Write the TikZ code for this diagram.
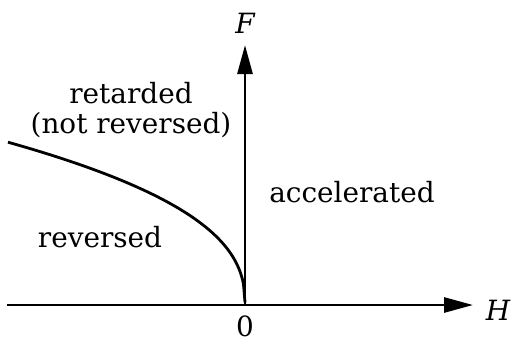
\documentclass[tikz,border=0pt]{standalone}
\usepackage{fontspec}
\setmainfont{DejaVu Serif}
\usetikzlibrary{arrows.meta}
\begin{document}
\begin{tikzpicture}[x=1bp,y=-1bp,
  axis/.style={line width=2.8bp,-{Triangle[length=29bp,width=15bp]}},
  curve/.style={line width=2.8bp},
  lbl/.style={font=\fontsize{28}{32}\selectfont, inner sep=0pt, anchor=base}]
\useasboundingbox (0,0) rectangle (514,345);
\coordinate (o) at (245,305);
\coordinate (xs) at (7,305);
\coordinate (xe) at (473,305);
\coordinate (ye) at (245,45);
\draw[axis] (xs) -- (xe);
\draw[axis] (o) -- (ye);
\draw[curve] plot[domain=0.01:237, samples=150, smooth] ({245-\x},{305-17.3*(\x)^0.41});
\node[lbl] (F) at (245,33) {\itshape F};
\node[lbl] (H) at (498,320) {\itshape H};
\node[lbl] (zero) at (245,336) {0};
\node[lbl] (ret) at (131,103) {retarded};
\node[lbl] (nrev) at (131,133) {(not reversed)};
\node[lbl] (acc) at (352,202) {accelerated};
\node[lbl] (rev) at (100,247) {reversed};
\end{tikzpicture}
\end{document}
